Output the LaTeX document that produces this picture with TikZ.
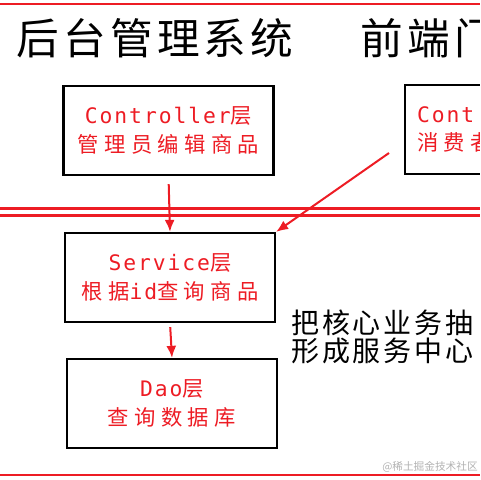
\documentclass[tikz,border=0pt]{standalone}
\usepackage{fontspec}
\setmainfont{Noto Sans CJK SC}
\newfontfamily\spacedcjk[LetterSpace=10]{Noto Sans CJK SC}
\newfontfamily\widecjk[LetterSpace=25]{Noto Sans CJK SC}
\newfontfamily\monolatin[LetterSpace=9]{DejaVu Sans Mono}
\usetikzlibrary{arrows.meta,positioning}
\definecolor{layerred}{RGB}{237,28,36}

\begin{document}
\begin{tikzpicture}[x=0.75pt,y=-0.75pt,
    layerbox/.style={draw=black, line width=1.7pt, minimum width=157.5pt,
        minimum height=66.75pt, align=center, text=layerred, inner sep=0pt,
        font=\fontsize{16}{21.5}\selectfont},
    callarrow/.style={draw=layerred, line width=1.5pt, -{Latex[length=9pt,width=7.5pt]}},
    sepline/.style={draw=layerred, line width=1.6pt}]
    \useasboundingbox (0,0) rectangle (480,480);
    \clip (0,0) rectangle (480,480);
    % separators
    \draw[sepline] (0,4) -- (480,4);
    \draw[sepline] (0,208.5) -- (480,208.5);
    \draw[sepline] (0,215.5) -- (480,215.5);
    \draw[sepline] (0,475) -- (480,475);
    % titles
    \node[anchor=west, inner sep=0pt, font=\spacedcjk\fontsize{32}{32}\selectfont]
        (backend) at (16,38) {后台管理系统};
    \node[anchor=west, inner sep=0pt, font=\spacedcjk\fontsize{32}{32}\selectfont]
        (frontend) at (360,38) {前端门};
    % layers
    \node[layerbox] (adminctrl) at (168.5,130.5)
        {{\monolatin Controller}{\widecjk 层}\\{\widecjk 管理员编辑商品}};
    \node[layerbox, anchor=west, text width=157.5pt, align=left] (userctrl) at (404,129.5)
        {\hspace*{9pt}{\monolatin Cont}\\\hspace*{9pt}{\widecjk 消费者}};
    \node[layerbox] (service) at (170,277.5)
        {{\monolatin Service}{\widecjk 层}\\{\widecjk 根据}{\monolatin id}{\widecjk 查询商品}};
    \node[layerbox] (dao) at (172,403.5)
        {{\monolatin Dao}{\widecjk 层}\\{\widecjk 查询数据库}};
    \node[anchor=west, inner sep=0pt, align=left,
        font=\spacedcjk\fontsize{21}{21}\selectfont] (center) at (291,337)
        {把核心业务抽\\形成服务中心};
    \node[anchor=east, inner sep=0pt, text=black!30,
        font=\fontsize{8}{8}\selectfont] (mark) at (478,467) {@稀土掘金技术社区};
    % calls
    \coordinate (usercall) at (389,153);
    \draw[callarrow, shorten <=6pt] (adminctrl.south) -- (service.north);
    \draw[callarrow] (usercall) -- (service.north east);
    \draw[callarrow, shorten <=3pt] (service.south) -- (dao.north);
\end{tikzpicture}
\end{document}
